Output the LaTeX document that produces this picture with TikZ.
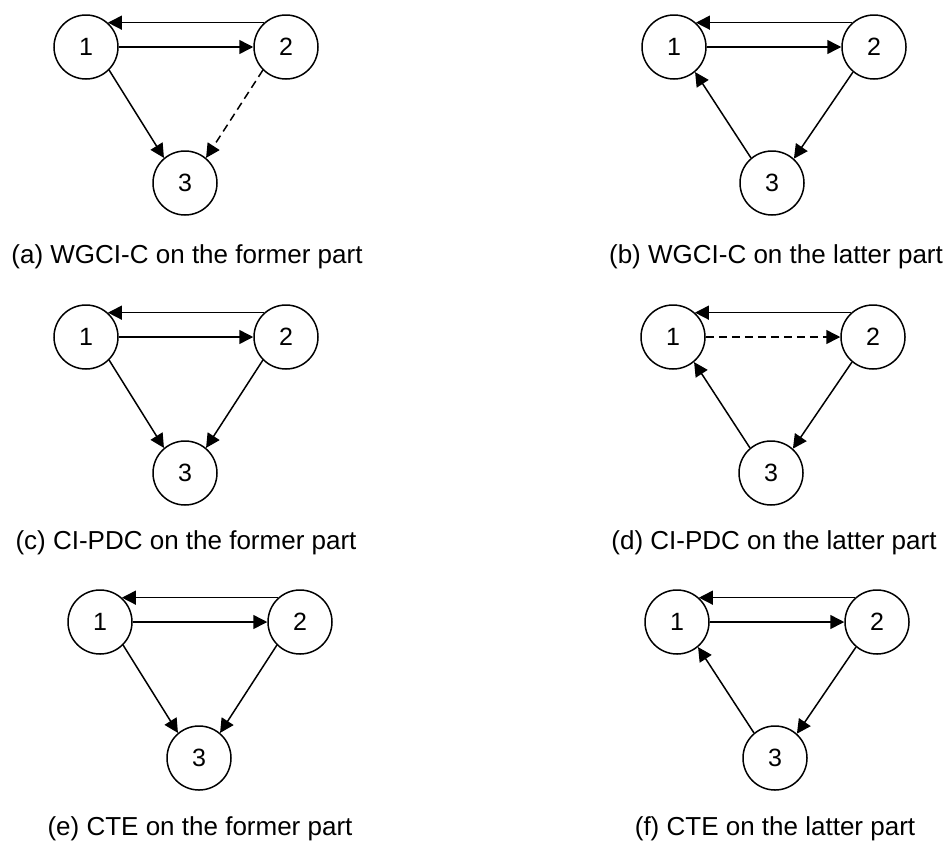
\documentclass[tikz,border=0pt]{standalone}
\usepackage{fontspec}
\setmainfont{Liberation Sans}
\usetikzlibrary{arrows.meta}

\begin{document}
\begin{tikzpicture}[x=1pt, y=-1pt,
  vertex/.style={draw, circle, line width=1.5pt, minimum size=64pt, inner sep=0pt,
    font=\fontsize{25}{28}\selectfont},
  link/.style={line width=1.5pt, -{Triangle[length=14pt, width=14pt]}},
  weak/.style={link, dash pattern=on 8pt off 5pt},
  sublabel/.style={font=\fontsize{26}{30}\selectfont}]
  \useasboundingbox (0,0) rectangle (952,846);

  % (a)
  \begin{scope}[shift={(86,47)}]
    \node[vertex] (a1) at (0,0) {1};
    \node[vertex] (a2) at (200,0) {2};
    \node[vertex] (a3) at (99,136) {3};
    \draw[link] (a2.132) -- (a1.48);
    \draw[link] (a1) -- (a2);
    \draw[link] (a1.-45) -- (a3.130);
    \draw[weak] (a2.-135) -- (a3.50);
    \node[sublabel] (capa) at (101,210) {(a) WGCI-C on the former part};
  \end{scope}

  % (b)
  \begin{scope}[shift={(674,47)}]
    \node[vertex] (b1) at (0,0) {1};
    \node[vertex] (b2) at (200,0) {2};
    \node[vertex] (b3) at (98,136) {3};
    \draw[link] (b2.132) -- (b1.48);
    \draw[link] (b1) -- (b2);
    \draw[link] (b2.-130) -- (b3.48);
    \draw[link] (b3.130) -- (b1.-50);
    \node[sublabel] (capb) at (102,210) {(b) WGCI-C on the latter part};
  \end{scope}

  % (c)
  \begin{scope}[shift={(86,337)}]
    \node[vertex] (c1) at (0,0) {1};
    \node[vertex] (c2) at (200,0) {2};
    \node[vertex] (c3) at (99,136) {3};
    \draw[link] (c2.132) -- (c1.48);
    \draw[link] (c1) -- (c2);
    \draw[link] (c1.-45) -- (c3.130);
    \draw[link] (c2.-135) -- (c3.50);
    \node[sublabel] (capc) at (100,206) {(c) CI-PDC on the former part};
  \end{scope}

  % (d)
  \begin{scope}[shift={(673,337)}]
    \node[vertex] (d1) at (0,0) {1};
    \node[vertex] (d2) at (200,0) {2};
    \node[vertex] (d3) at (98,136) {3};
    \draw[link] (d2.132) -- (d1.48);
    \draw[weak] (d1) -- (d2);
    \draw[link] (d2.-130) -- (d3.48);
    \draw[link] (d3.130) -- (d1.-50);
    \node[sublabel] (capd) at (101,206) {(d) CI-PDC on the latter part};
  \end{scope}

  % (e)
  \begin{scope}[shift={(100,622)}]
    \node[vertex] (e1) at (0,0) {1};
    \node[vertex] (e2) at (200,0) {2};
    \node[vertex] (e3) at (99,136) {3};
    \draw[link] (e2.132) -- (e1.48);
    \draw[link] (e1) -- (e2);
    \draw[link] (e1.-45) -- (e3.130);
    \draw[link] (e2.-135) -- (e3.50);
    \node[sublabel] (cape) at (100,207) {(e) CTE on the former part};
  \end{scope}

  % (f)
  \begin{scope}[shift={(677,622)}]
    \node[vertex] (f1) at (0,0) {1};
    \node[vertex] (f2) at (200,0) {2};
    \node[vertex] (f3) at (98,136) {3};
    \draw[link] (f2.132) -- (f1.48);
    \draw[link] (f1) -- (f2);
    \draw[link] (f2.-130) -- (f3.48);
    \draw[link] (f3.130) -- (f1.-50);
    \node[sublabel] (capf) at (98,207) {(f) CTE on the latter part};
  \end{scope}
\end{tikzpicture}
\end{document}
